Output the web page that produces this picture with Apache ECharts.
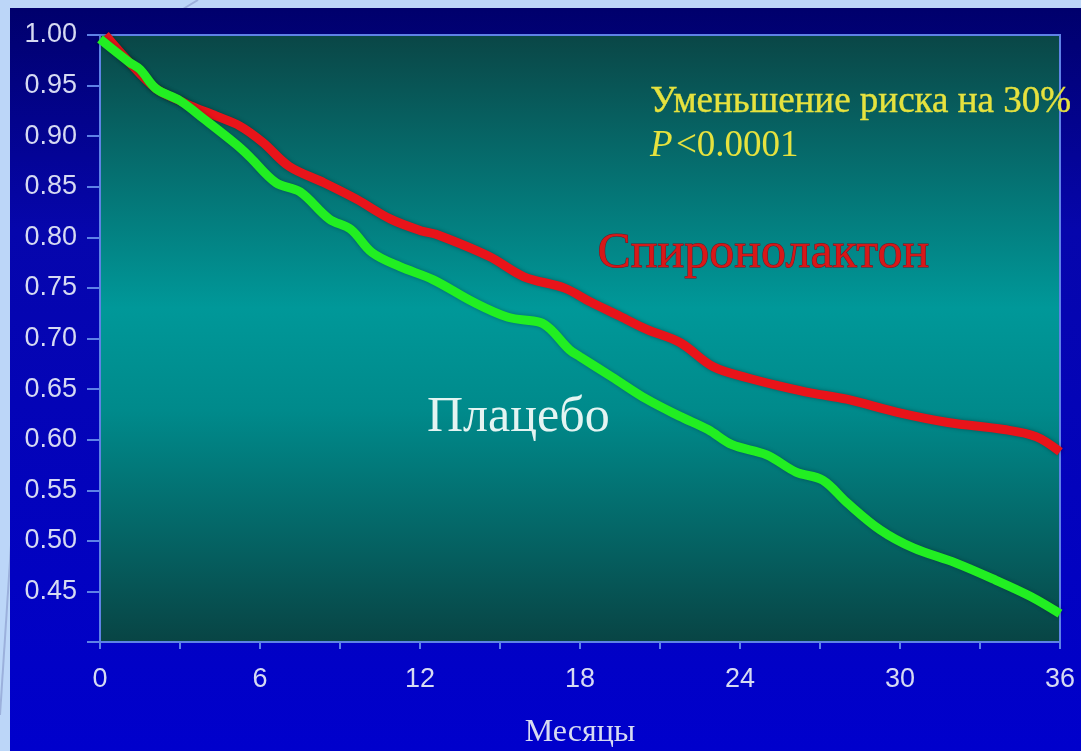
<!DOCTYPE html>
<html>
<head>
<meta charset="utf-8">
<script src="https://cdn.jsdelivr.net/npm/echarts@6/dist/echarts.min.js"></script>
<style>html,body{margin:0;padding:0;background:#bcd6f8;}#c{width:1081px;height:751px;}</style>
</head>
<body>
<div id="c"></div>
<script>
// Months (x) and survival values (y)
const spiroMonths = [0.2, 1.1, 2.1, 3.0, 3.4, 4.35, 5.25, 6.1, 7.1, 8.4, 9.6, 10.9, 12.1, 12.6, 14.6, 15.9, 17.4, 18.4, 19.5, 20.5, 21.75, 23.0, 24.3, 25.5, 26.7, 28.0, 29.9, 31.8, 33.9, 35.1, 36];
const spiroValues = [1.0, 0.973, 0.947, 0.935, 0.930, 0.920, 0.910, 0.894, 0.870, 0.854, 0.838, 0.818, 0.806, 0.803, 0.781, 0.761, 0.750, 0.736, 0.722, 0.709, 0.696, 0.672, 0.661, 0.653, 0.646, 0.640, 0.627, 0.617, 0.610, 0.603, 0.588];
const placeboMonths = [0, 1.1, 1.5, 2.1, 3.0, 3.9, 5.1, 5.6, 6.6, 7.5, 8.6, 9.4, 10.2, 11.25, 12.5, 14.0, 15.3, 16.5, 16.9, 17.6, 18.0, 19.2, 20.5, 21.75, 22.8, 23.7, 25.0, 26.1, 27.1, 28.0, 29.25, 30.5, 32.1, 33.6, 34.9, 36];
const placeboValues = [0.996, 0.973, 0.966, 0.947, 0.935, 0.917, 0.892, 0.880, 0.854, 0.845, 0.818, 0.808, 0.785, 0.771, 0.758, 0.736, 0.721, 0.716, 0.709, 0.689, 0.682, 0.662, 0.640, 0.623, 0.610, 0.595, 0.585, 0.568, 0.560, 0.538, 0.511, 0.493, 0.478, 0.461, 0.445, 0.428];
const xTickLabels = [0, 6, 12, 18, 24, 30, 36];
const seriesNames = ['Спиронолактон', 'Плацебо'];
const annotation1 = 'Уменьшение риска на 30%';
const annotation2 = '<0.0001';
const xAxisTitle = 'Месяцы';

const toPairs = (xs, ys) => xs.map((x, i) => [x, ys[i]]);
const axisCol = '#5e82e6';
const labelCol = '#d6daf2';

const chart = echarts.init(document.getElementById('c'));
chart.setOption({
  backgroundColor: '#bcd6f8',
  animation: false,
  graphic: [
    { type: 'line', z: -20, shape: { x1: 0, y1: 715, x2: 12, y2: 530 }, style: { stroke: '#9cb0dc', lineWidth: 2 } },
    { type: 'line', z: -20, shape: { x1: 183, y1: 9, x2: 198, y2: 0 }, style: { stroke: '#9cb0dc', lineWidth: 2 } },
    { type: 'rect', z: -10, shape: { x: 10, y: 8, width: 1071, height: 743 },
      style: { fill: new echarts.graphic.LinearGradient(0, 0, 0, 1, [
        { offset: 0, color: '#00006c' }, { offset: 0.3, color: '#0606ac' }, { offset: 1, color: '#0000cc' }]) } },
    { type: 'text', z: 50, left: 650, top: 84, style: { text: annotation1, font: '37px "Liberation Serif", serif', fill: '#e6e23e',
      stroke: '#e6e23e', lineWidth: 0.4,
      shadowBlur: 3, shadowColor: 'rgba(0,0,0,0.5)', shadowOffsetX: 1, shadowOffsetY: 1 } },
    { type: 'text', z: 50, left: 650, top: 128, style: {
      rich: { i: { font: 'italic 37px "Liberation Serif", serif', fill: '#e6e23e' }, n: { font: '37px "Liberation Serif", serif', fill: '#e6e23e' } },
      text: '{i|P} {n|' + annotation2 + '}', shadowBlur: 3, shadowColor: 'rgba(0,0,0,0.5)' } },
    { type: 'text', z: 50, left: 597, top: 228, style: { text: seriesNames[0], font: '50px "Liberation Serif", serif', fill: '#d81818',
      stroke: '#7a1020', lineWidth: 1,
      shadowBlur: 2, shadowColor: 'rgba(20,20,40,0.9)', shadowOffsetX: 2, shadowOffsetY: 2 } },
    { type: 'text', z: 50, left: 427, top: 393, style: { text: seriesNames[1], font: '50px "Liberation Serif", serif', fill: '#e4f4f2',
      shadowBlur: 2, shadowColor: 'rgba(10,30,40,0.9)', shadowOffsetX: 2, shadowOffsetY: 2 } }
  ],
  grid: {
    left: 100, right: 21, top: 35, bottom: 109,
    containLabel: false, outerBoundsMode: 'none',
    show: true, borderColor: axisCol, borderWidth: 2,
    backgroundColor: new echarts.graphic.LinearGradient(0, 0, 0, 1, [
      { offset: 0, color: '#0a4646' }, { offset: 0.45, color: '#009899' },
      { offset: 0.62, color: '#008a8b' }, { offset: 1, color: '#084444' }])
  },
  xAxis: {
    type: 'value', min: 0, max: 36, interval: 3,
    name: xAxisTitle, nameLocation: 'middle', nameGap: 91,
    nameTextStyle: { color: labelCol, fontFamily: '"Liberation Serif", serif', fontSize: 32, verticalAlign: 'middle' },
    axisLine: { show: true, onZero: false, lineStyle: { color: axisCol, width: 2 } },
    axisTick: { show: true, length: 7, lineStyle: { color: axisCol, width: 2 } },
    splitLine: { show: false },
    axisLabel: {
      color: labelCol, fontFamily: '"Liberation Sans", Arial, sans-serif', fontSize: 27, margin: 24,
      formatter: v => xTickLabels.indexOf(Math.round(v)) >= 0 ? String(Math.round(v)) : ''
    }
  },
  yAxis: {
    type: 'value', min: 0.4, max: 1.0, interval: 0.05,
    axisLine: { show: true, lineStyle: { color: axisCol, width: 2 } },
    axisTick: { show: true, length: 13, lineStyle: { color: axisCol, width: 2 } },
    splitLine: { show: false },
    axisLabel: {
      color: labelCol, fontFamily: '"Liberation Sans", Arial, sans-serif', fontSize: 27, margin: 23,
      formatter: v => v < 0.42 ? '' : v.toFixed(2)
    }
  },
  series: [
    { name: seriesNames[0], type: 'line', data: toPairs(spiroMonths, spiroValues), smooth: 0.35, symbol: 'none',
      lineStyle: { color: '#e8141a', width: 9, shadowBlur: 4, shadowColor: 'rgba(0,0,0,0.35)' }, z: 3 },
    { name: seriesNames[1], type: 'line', data: toPairs(placeboMonths, placeboValues), smooth: 0.35, symbol: 'none',
      lineStyle: { color: '#22ee22', width: 9, shadowBlur: 4, shadowColor: 'rgba(0,0,0,0.3)' }, z: 4 }
  ]
});
</script>
</body>
</html>
